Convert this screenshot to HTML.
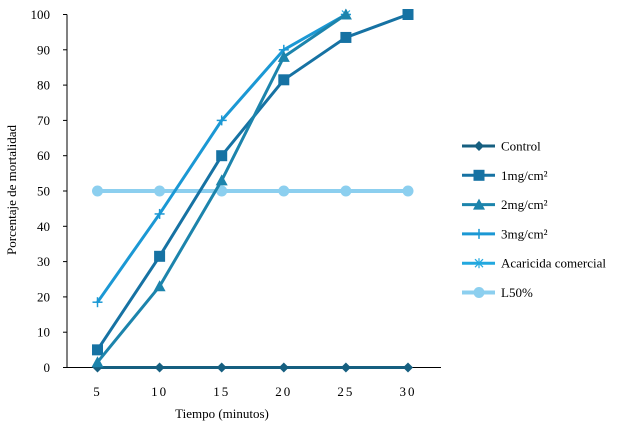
<!DOCTYPE html>
<html><head><meta charset="utf-8"><style>
body{margin:0;background:#fff;}
svg{display:block;font-family:"Liberation Serif",serif;}
</style></head><body>
<svg id="chart" width="624" height="431">
<g id="axes"></g><g id="series"></g><g id="legend"></g>
<text x="222" y="418" font-size="13" text-anchor="middle">Tiempo (minutos)</text>
<text transform="translate(16,190) rotate(-90)" font-size="13" text-anchor="middle">Porcentaje de mortalidad</text>
</svg>
<script>
const categories=[5,10,15,20,25,30];
const yTicks=[0,10,20,30,40,50,60,70,80,90,100];
const control=[0,0,0,0,0,0];
const mg1=[5,31.5,60,81.5,93.5,100];
const mg2=[1.5,23,53,88,100,null];
const mg3=[18.5,43.5,70,90,100,null];
const acaricida=[null,null,null,null,100,null];
const l50=[50,50,50,50,50,50];
const seriesNames=["Control","1mg/cm²","2mg/cm²","3mg/cm²","Acaricida comercial","L50%"];
const NS="http://www.w3.org/2000/svg";
const x=i=>97.5+i*62.1;
const y=v=>367.5-v*3.53;
function mk(t,a,p){const e=document.createElementNS(NS,t);for(const k in a)e.setAttribute(k,a[k]);p.appendChild(e);return e;}
const axes=document.getElementById('axes');
let ax=mk('line',{x1:67,y1:y(100),x2:67,y2:367.5,stroke:'#000','stroke-width':1},axes);


ax=mk('line',{x1:67,y1:367.5,x2:441,y2:367.5,stroke:'#000','stroke-width':1},axes);


yTicks.forEach(v=>{mk('line',{x1:63,x2:67,y1:y(v),y2:y(v),stroke:'#000'},axes);
const t=mk('text',{x:50,y:y(v)+4.5,'font-size':13,'text-anchor':'end'},axes);t.textContent=v;

});
categories.forEach((c,i)=>{const t=mk('text',{x:x(i),y:396,'font-size':13,'text-anchor':'middle','letter-spacing':'2'},axes);t.textContent=c;

});
const colors=['#165f80','#1672a3','#1c84ac','#1b98d4','#22a8df','#8ccfef'];
const widths=[3,3,3,3,3,4];
const kinds=['diamond','square','triangle','plus','star','circle'];
function marker(g,k,cx,cy,c){
 if(k==='diamond')mk('polygon',{points:`${cx},${cy-5} ${cx+5},${cy} ${cx},${cy+5} ${cx-5},${cy}`,fill:c},g);
 else if(k==='square')mk('rect',{x:cx-5.5,y:cy-5.5,width:11,height:11,fill:c},g);
 else if(k==='triangle')mk('polygon',{points:`${cx},${cy-6} ${cx+6},${cy+5} ${cx-6},${cy+5}`,fill:c},g);
 else if(k==='plus'){mk('line',{x1:cx-5,x2:cx+5,y1:cy,y2:cy,stroke:c,'stroke-width':1.5},g);mk('line',{x1:cx,x2:cx,y1:cy-5,y2:cy+5,stroke:c,'stroke-width':1.5},g);}
 else if(k==='star'){[[-5,0,5,0],[-4,-4,4,4],[-4,4,4,-4],[0,-5,0,5]].forEach(d=>mk('line',{x1:cx+d[0],y1:cy+d[1],x2:cx+d[2],y2:cy+d[3],stroke:c,'stroke-width':1.2},g));}
 else mk('circle',{cx:cx,cy:cy,r:5.5,fill:c},g);
}
const data=[control,mg1,mg2,mg3,acaricida,l50];
const sg=document.getElementById('series');
const order=[4,5,0,1,3,2];
order.forEach(s=>{const g=mk('g',{},sg);


const pts=data[s].map((v,i)=>v==null?null:[x(i),y(v)]).filter(p=>p);
if(pts.length>1)mk('polyline',{points:pts.map(p=>p.join(',')).join(' '),fill:'none',stroke:colors[s],'stroke-width':widths[s]},g);
pts.forEach(p=>marker(g,kinds[s],p[0],p[1],colors[s]));});
const lg=document.getElementById('legend');
seriesNames.forEach((n,i)=>{const g=mk('g',{},lg);


const ly=146+i*29.3;
mk('line',{x1:462,x2:495,y1:ly,y2:ly,stroke:colors[i],'stroke-width':widths[i]},g);
marker(g,kinds[i],479,ly,colors[i]);
const t=mk('text',{x:501,y:ly+4.5,'font-size':13},g);t.textContent=n;});
</script>
</body></html>
